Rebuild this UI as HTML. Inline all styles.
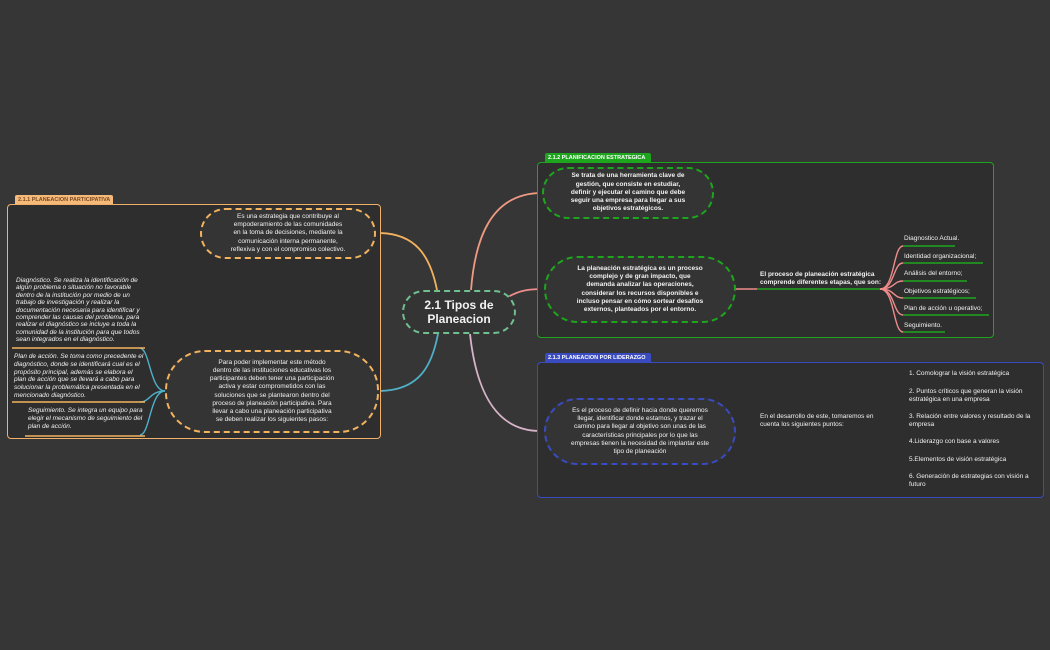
<!DOCTYPE html>
<html><head><meta charset="utf-8"><style>
body{margin:0;width:1050px;height:650px;background:#363636;position:relative;overflow:hidden;font-family:"Liberation Sans",sans-serif;color:#f2f2f2}
.a{position:absolute;box-sizing:border-box}
.box{background:#2e2e2e;border-radius:4px}
.lab{font-size:5.5px;font-weight:bold;padding:1px 3px;border-radius:2px 2px 0 0;line-height:8px;white-space:nowrap;overflow:hidden}
.node{background:#343434;border-radius:28px;display:flex;align-items:center;justify-content:center;text-align:center;font-size:6.5px;line-height:8.2px}
.t{font-size:6.5px;line-height:8.2px}
.i{font-style:italic}
</style></head><body>
<svg class="a" style="left:0;top:0" width="1050" height="650">
<g fill="none" stroke-width="1.8">
<path d="M378 233 C415 233 430 255 437 290" stroke="#f3b35e"/>
<path d="M378 391 C420 391 432 365 438 334" stroke="#4fb0c8"/>
<path d="M542 193 C490 193 475 240 471 290" stroke="#ef9a82"/>
<path d="M508 297 C520 290 530 289 544 289" stroke="#ef8c8c"/>
<path d="M540 431 C490 431 475 380 470 334" stroke="#d8b4c8"/>
</g>
</svg>
<!-- left section -->
<div class="a lab" style="left:15px;top:195px;width:98px;height:10px;background:#f5b97a;color:#7a4a20">2.1.1 PLANEACION PARTICIPATIVA</div>
<div class="a box" style="left:7px;top:204px;width:374px;height:235px;border:1px solid #f0b06a"></div>
<div class="a node" style="left:200px;top:208px;width:176px;height:51px;border:2px dashed #f3b35e;padding:0 28px">Es una estrategia que contribuye al empoderamiento de las comunidades en la toma de decisiones, mediante la comunicación interna permanente, reflexiva y con el compromiso colectivo.</div>
<div class="a node" style="left:165px;top:350px;width:214px;height:83px;border:2px dashed #f3b35e;border-radius:40px;padding:0 42px">Para poder implementar este método dentro de las instituciones educativas los participantes deben tener una participación activa y estar comprometidos con las soluciones que se plantearon dentro del proceso de planeación participativa. Para llevar a cabo una planeación participativa se deben realizar los siguientes pasos:</div>
<svg class="a" style="left:0;top:0" width="400" height="450"><g fill="none" stroke="#4fb0c8" stroke-width="1.4">
<path d="M165 391 C150 391 150 349 140 348"/><path d="M165 391 C150 391 150 402 140 402"/><path d="M165 391 C150 391 150 435 140 435"/></g>
<g stroke="#f3b35e" stroke-width="1.4"><line x1="12" y1="348" x2="145" y2="348"/><line x1="12" y1="402" x2="145" y2="402"/><line x1="25" y1="436" x2="145" y2="436"/></g></svg>
<div class="a t i" style="left:16px;top:277px;width:128px;line-height:7.4px">Diagnóstico. Se realiza la identificación de algún problema o situación no favorable dentro de la institución por medio de un trabajo de investigación y realizar la documentación necesaria para identificar y comprender las causas del problema, para realizar el diagnóstico se incluye a toda la comunidad de la institución para que todos sean integrados en el diagnóstico.</div>
<div class="a t i" style="left:14px;top:353px;width:130px;line-height:7.8px">Plan de acción. Se toma como precedente el diagnóstico, donde se identificará cual es el propósito principal, además se elabora el plan de acción que se llevará a cabo para solucionar la problemática presentada en el mencionado diagnóstico.</div>
<div class="a t i" style="left:28px;top:407px;width:116px">Seguimiento. Se integra un equipo para elegir el mecanismo de seguimiento del plan de acción.</div>
<!-- central -->
<div class="a node" style="left:402px;top:290px;width:114px;height:44px;border:2px dashed #6fbf8f;font-size:12px;line-height:14px;font-weight:bold;border-radius:22px">2.1 Tipos de Planeacion</div>
<!-- green section -->
<div class="a lab" style="left:545px;top:153px;width:106px;height:10px;background:#1ea51e;color:#fff">2.1.2 PLANIFICACION ESTRATEGICA</div>
<div class="a box" style="left:537px;top:162px;width:457px;height:176px;border:1px solid #1ea51e"></div>
<div class="a node" style="left:542px;top:167px;width:172px;height:52px;border:2px dashed #1ea51e;font-weight:bold;padding:0 22px">Se trata de una herramienta clave de gestión, que consiste en estudiar, definir y ejecutar el camino que debe seguir una empresa para llegar a sus objetivos estratégicos.</div>
<div class="a node" style="left:544px;top:256px;width:192px;height:67px;border:2px dashed #1ea51e;font-weight:bold;border-radius:34px;padding:0 30px">La planeación estratégica es un proceso complejo y de gran impacto, que demanda analizar las operaciones, considerar los recursos disponibles e incluso pensar en cómo sortear desafíos externos, planteados por el entorno.</div>
<div class="a t" style="left:760px;top:271px;font-weight:bold">El proceso de planeación estratégica<br>comprende diferentes etapas, que son:</div>
<svg class="a" style="left:0;top:0" width="1050" height="650"><g fill="none" stroke-width="1.4">
<line x1="736" y1="289" x2="757" y2="289" stroke="#ef8c8c"/>
<line x1="757" y1="289" x2="880" y2="289" stroke="#1ea51e"/>
<g stroke="#ef8c8c"><path d="M880 289 C895 289 893 246 903 246"/><path d="M880 289 C895 289 893 263 903 263"/><path d="M880 289 C895 289 893 281 903 281"/><path d="M880 289 C895 289 893 298 903 298"/><path d="M880 289 C895 289 893 315 903 315"/><path d="M880 289 C895 289 893 332 903 332"/></g>
<g stroke="#1ea51e"><line x1="903" y1="246" x2="955" y2="246"/><line x1="903" y1="263" x2="983" y2="263"/><line x1="903" y1="281" x2="967" y2="281"/><line x1="903" y1="298" x2="976" y2="298"/><line x1="903" y1="315" x2="989" y2="315"/><line x1="903" y1="332" x2="945" y2="332"/></g>
<line x1="736" y1="431" x2="757" y2="431" stroke="#d8b4c8"/>
<line x1="757" y1="431" x2="885" y2="431" stroke="#3a4bc0"/>
<g stroke="#d8b4c8"><path d="M885 431 C900 431 898 381 908 381"/><path d="M885 431 C900 431 898 406 908 406"/><path d="M885 431 C900 431 898 431 908 431"/><path d="M885 431 C900 431 898 449 908 449"/><path d="M885 431 C900 431 898 467 908 467"/><path d="M885 431 C900 431 898 492 908 492"/></g>
<g stroke="#3a4bc0"><line x1="908" y1="381" x2="1015" y2="381"/><line x1="908" y1="406" x2="1032" y2="406"/><line x1="908" y1="431" x2="1036" y2="431"/><line x1="908" y1="449" x2="1005" y2="449"/><line x1="908" y1="467" x2="1013" y2="467"/><line x1="908" y1="492" x2="1036" y2="492"/></g>
</g></svg>
<div class="a t" style="left:904px;top:235px">Diagnostico Actual.</div>
<div class="a t" style="left:904px;top:253px">Identidad organizacional;</div>
<div class="a t" style="left:904px;top:270px">Análisis del entorno;</div>
<div class="a t" style="left:904px;top:288px">Objetivos estratégicos;</div>
<div class="a t" style="left:904px;top:305px">Plan de acción u operativo;</div>
<div class="a t" style="left:904px;top:322px">Seguimiento.</div>
<!-- blue section -->
<div class="a lab" style="left:545px;top:353px;width:106px;height:10px;background:#3a4bc0;color:#fff">2.1.3 PLANEACION POR LIDERAZGO</div>
<div class="a box" style="left:537px;top:362px;width:507px;height:136px;border:1px solid #3a4bc0"></div>
<div class="a node" style="left:544px;top:398px;width:192px;height:67px;border:2px dashed #3a4bc0;border-radius:34px;padding:0 24px">Es el proceso de definir hacia donde queremos llegar, identificar donde estamos, y trazar el camino para llegar al objetivo son unas de las características principales por lo que las empresas tienen la necesidad de implantar este tipo de planeación</div>
<div class="a t" style="left:760px;top:413px">En el desarrollo de este, tomaremos en<br>cuenta los siguientes puntos:</div>
<div class="a t" style="left:909px;top:370px">1. Comolograr la visión estratégica</div>
<div class="a t" style="left:909px;top:388px;width:125px">2. Puntos críticos que generan la visión estratégica en una empresa</div>
<div class="a t" style="left:909px;top:413px;width:128px">3. Relación entre valores y resultado de la empresa</div>
<div class="a t" style="left:909px;top:438px">4.Liderazgo con base a valores</div>
<div class="a t" style="left:909px;top:456px">5.Elementos de visión estratégica</div>
<div class="a t" style="left:909px;top:473px;width:128px">6. Generación de estrategias con visión a futuro</div>
</body></html>
